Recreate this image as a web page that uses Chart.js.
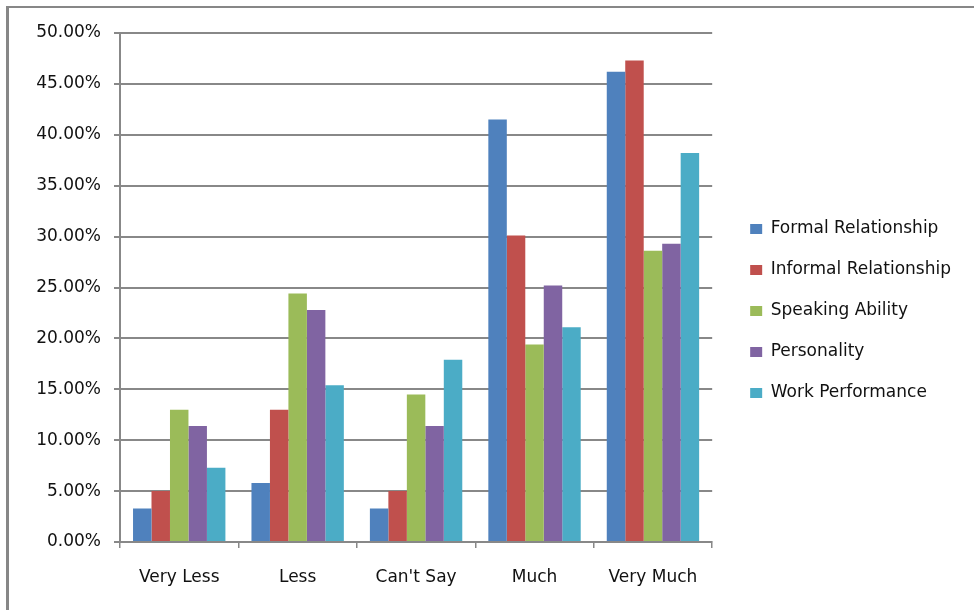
<!DOCTYPE html>
<html>
<head>
<meta charset="utf-8">
<title>Ratings by factor</title>
<script src="https://cdn.jsdelivr.net/npm/chart.js@4.4.1/dist/chart.umd.min.js"></script>
<style>
  html, body { margin: 0; padding: 0; background: #fff; }
  #wrap { position: relative; width: 974px; height: 610px; overflow: hidden; }
  #frame { position: absolute; left: 6px; top: 6px; right: -10px; bottom: -10px;
           border-top: 2px solid #878787; border-left: 3px solid #878787; }
  #c { position: absolute; left: 0; top: 0; }
</style>
</head>
<body>
<div id="wrap">
  <div id="frame"></div>
  <canvas id="c" width="974" height="610"></canvas>
</div>
<script>
// Rating categories along the x axis
const categories = ["Very Less", "Less", "Can't Say", "Much", "Very Much"];

// Share of responses (%) per factor
const formalRelationship   = [3.3, 5.8, 3.3, 41.5, 46.2];
const informalRelationship = [5.0, 13.0, 5.0, 30.1, 47.3];
const speakingAbility      = [13.0, 24.4, 14.5, 19.4, 28.6];
const personality          = [11.4, 22.8, 11.4, 25.2, 29.3];
const workPerformance      = [7.3, 15.4, 17.9, 21.1, 38.2];

const seriesNames = ["Formal Relationship", "Informal Relationship", "Speaking Ability", "Personality", "Work Performance"];
const seriesValues = [formalRelationship, informalRelationship, speakingAbility, personality, workPerformance];
const seriesColors = ["#4F81BD", "#C0504D", "#9BBB59", "#8064A2", "#4BACC6"];

// Y axis ticks: 0.00% .. 50.00% in steps of 5
const yMin = 0, yMax = 50, yStep = 5;

const FONT = { family: "'DejaVu Sans', sans-serif", size: 17 };
const GRID = "#888888";

new Chart(document.getElementById("c"), {
  type: "bar",
  data: {
    labels: categories,
    datasets: seriesNames.map((name, i) => ({
      label: name,
      data: seriesValues[i],
      backgroundColor: seriesColors[i],
      borderWidth: 0,
      categoryPercentage: 0.78,
      barPercentage: 1.0
    }))
  },
  options: {
    responsive: false,
    animation: false,
    devicePixelRatio: 1,
    layout: { padding: { left: 0, top: 33, right: 13, bottom: 21 } },
    plugins: {
      tooltip: { enabled: false },
      legend: {
        position: "right",
        align: "center",
        maxWidth: 320,
        labels: {
          boxWidth: 12,
          boxHeight: 10,
          padding: 24,
          color: "#111",
          font: FONT
        }
      }
    },
    scales: {
      x: {
        grid: { display: true, drawOnChartArea: false, color: GRID, lineWidth: 1.5, tickLength: 6, offset: true },
        border: { display: true, color: GRID, width: 2 },
        ticks: { color: "#111", font: FONT, padding: 19, maxRotation: 0 },
        afterFit: (s) => { s.height = 47; }
      },
      y: {
        min: yMin,
        max: yMax,
        grid: { color: GRID, lineWidth: 2, tickLength: 6 },
        border: { display: true, color: GRID, width: 2 },
        ticks: {
          stepSize: yStep,
          color: "#111",
          font: FONT,
          padding: 13,
          callback: (v) => Number(v).toFixed(2) + "%"
        },
        afterFit: (s) => { s.width = 120; }
      },
      // empty gap between the plot and the legend
      gap: {
        type: "linear",
        position: "right",
        display: true,
        grid: { display: false },
        border: { display: false },
        ticks: { display: false },
        afterFit: (s) => { s.width = 14; }
      }
    }
  }
});
</script>
</body>
</html>
